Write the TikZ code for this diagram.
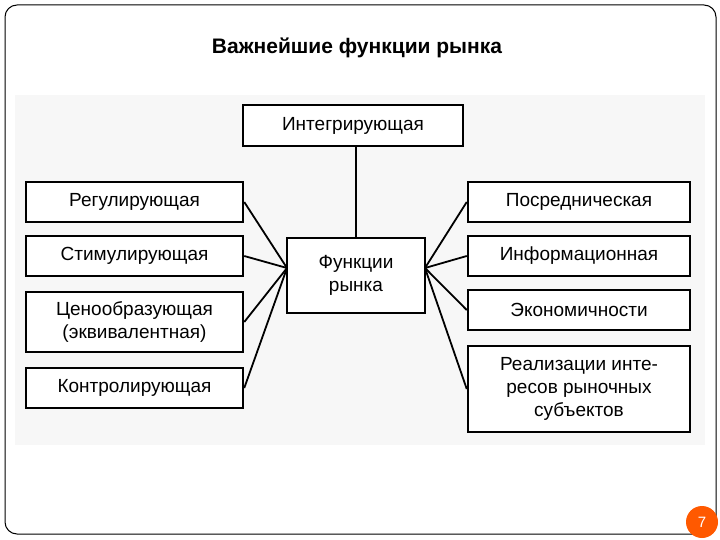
\documentclass[tikz,border=0pt]{standalone}
\usepackage{fontspec}
\setmainfont{Liberation Sans}
\begin{document}
\begin{tikzpicture}[x=1pt,y=-1pt,
 fbox/.style={draw,line width=2.5pt,fill=white,font=\fontsize{19}{23}\selectfont,align=center,inner sep=0pt},
 conn/.style={line width=1.8pt}]
\useasboundingbox (0,0) rectangle (720,540);
\draw[line width=1pt,rounded corners=12pt] (5,5) rectangle (716,534);
\fill[gray!6] (15,95) rectangle (705,445);
\node[font=\bfseries\fontsize{21}{24}\selectfont] (title) at (357,48) {Важнейшие функции рынка};
\node[fbox,minimum width=220pt,minimum height=41pt] (top) at (353,125.5) {Интегрирующая};
\node[fbox,minimum width=138pt,minimum height=75pt] (c) at (356,275.5) {Функции\\рынка};
\coordinate (cl) at (287,268); \coordinate (cr) at (425,268);
\node[fbox,minimum width=217pt,minimum height=40pt] (l1) at (134.5,202) {Регулирующая};
\node[fbox,minimum width=217pt,minimum height=40pt] (l2) at (134.5,256) {Стимулирующая};
\node[fbox,minimum width=217pt,minimum height=60pt] (l3) at (134.5,322) {Ценообразующая\\(эквивалентная)};
\node[fbox,minimum width=217pt,minimum height=40pt] (l4) at (134.5,388) {Контролирующая};
\node[fbox,minimum width=222pt,minimum height=40pt] (r1) at (579,202) {Посредническая};
\node[fbox,minimum width=222pt,minimum height=40pt] (r2) at (579,256) {Информационная};
\node[fbox,minimum width=222pt,minimum height=40pt] (r3) at (579,310) {Экономичности};
\node[fbox,minimum width=222pt,minimum height=86pt] (r4) at (579,389) {Реализации инте-\\ресов рыночных\\субъектов};
\draw[conn] (c.north) -- (c.north |- top.south);
\foreach \n in {l1,l2,l3,l4} \draw[conn] (\n.east) -- (cl);
\foreach \n in {r1,r2,r3,r4} \draw[conn] (\n.west) -- (cr);
\node[circle,fill=orange!70!red,minimum size=32pt,inner sep=0pt,text=white,font=\fontsize{15}{17}\selectfont] (pg) at (702,522) {7};
\end{tikzpicture}
\end{document}
